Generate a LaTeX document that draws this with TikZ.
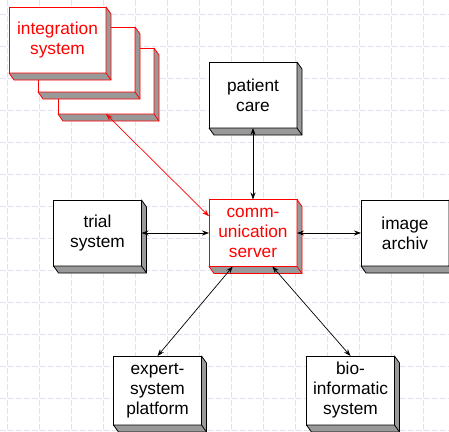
\documentclass[tikz,border=0pt]{standalone}
\usepackage{fontspec}
\setmainfont{Liberation Sans}
\usetikzlibrary{arrows.meta,calc}
\definecolor{shadegray}{RGB}{153,153,153}
\definecolor{gridc}{RGB}{226,226,246}
\definecolor{redc}{RGB}{255,0,0}
\newcommand{\extrude}[2]{%
  \filldraw[draw=#2, fill=shadegray, line width=0.8pt, line join=round]
    (#1.north east) -- ++(5,7) -- ($(#1.south east)+(5,7)$) -- ($(#1.south west)+(5,7)$)
    -- (#1.south west) -- (#1.south east) -- cycle;
  \draw[#2, line width=0.8pt] (#1.south east) -- ++(5,7);
}
\tikzset{
  box/.style={draw=black, fill=white, line width=0.8pt, outer sep=0pt, inner sep=0pt,
    minimum width=88pt, minimum height=66pt, align=center,
    font=\fontsize{17.3}{20}\selectfont},
  redbox/.style={box, draw=redc, text=redc, line width=1pt},
  link/.style={line width=0.7pt, {Stealth[length=7pt,width=5pt]}-{Stealth[length=7pt,width=5pt]}},
  redlink/.style={link, draw=redc, {Stealth[length=7pt,width=5pt,color=redc]}-{Stealth[length=7pt,width=5pt,color=redc]}},
  gridline/.style={draw=gridc, line width=0.7pt, dash pattern=on 6pt off 2pt}
}
\begin{document}
\begin{tikzpicture}[x=1pt,y=-1pt]
\useasboundingbox (0,0) rectangle (449,431);
\clip (0,0) rectangle (449,431);
\fill[white] (0,0) rectangle (449,431);
% grid
\foreach \gx in {7,39,...,455} {\draw[gridline] (\gx,0) -- (\gx,431);}
\foreach \gy in {14,46,...,440} {\draw[gridline] (0,\gy) -- (449,\gy);}
% integration stack
\node[redbox, minimum width=96pt, minimum height=66pt] (int3) at (106,81) {};
\extrude{int3}{redc}
\node[redbox, minimum width=97pt, minimum height=65pt] (int2) at (86.5,59.5) {};
\extrude{int2}{redc}
\node[redbox, minimum width=97pt, minimum height=66pt] (int1) at (57.5,40) {integration\\system};
\extrude{int1}{redc}
% other boxes
\node[box] (pc) at (253,95) {patient\\care};
\extrude{pc}{black}
\node[redbox, minimum height=67pt] (cs) at (253,233) {comm-\\unication\\server};
\extrude{cs}{redc}
\node[box] (ts) at (97.5,233) {trial\\system};
\extrude{ts}{black}
\node[box] (ia) at (405,233) {image\\archiv};
\extrude{ia}{black}
\node[box, minimum height=69pt] (es) at (157.5,390.5) {expert-\\system\\platform};
\extrude{es}{black}
\node[box, minimum height=69pt] (bi) at (350.5,390.5) {bio-\\informatic\\system};
\extrude{bi}{black}
% connectors
\draw[link] (pc.south) -- (cs.north);
\draw[link] (ts.east) -- (cs.west);
\draw[link] (cs.east) -- (ia.west);
\draw[link] ($(cs.south west)!0.27!(cs.south east)$) -- (es.north);
\draw[link] ($(cs.south west)!0.72!(cs.south east)$) -- (bi.north);
\draw[redlink] (int3.south) -- ($(cs.north west)!0.25!(cs.south west)$);
\end{tikzpicture}
\end{document}
